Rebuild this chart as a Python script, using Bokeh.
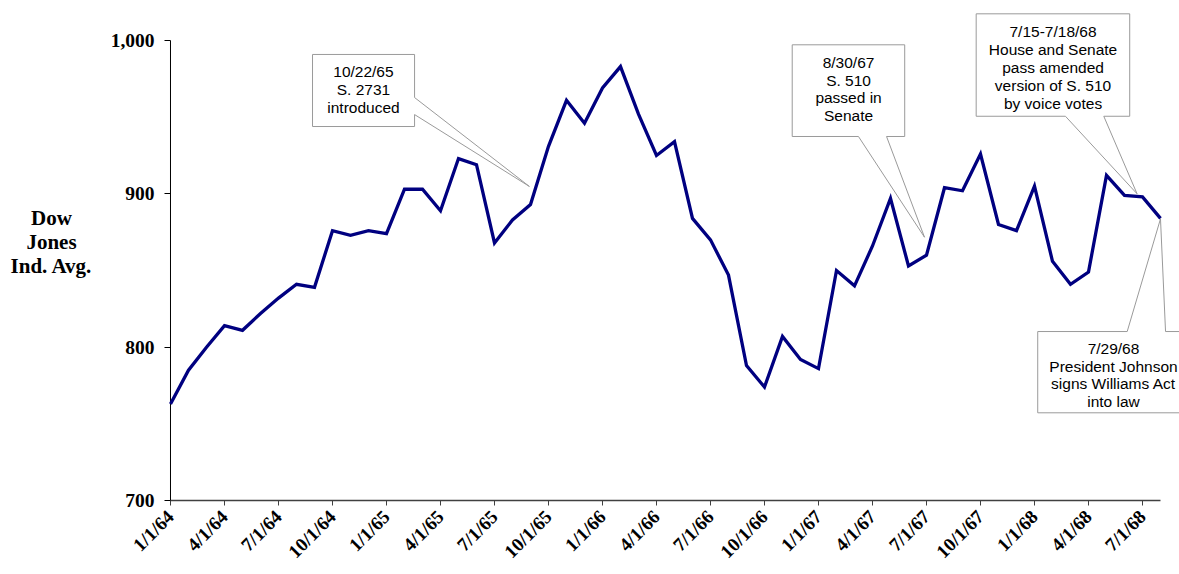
from bokeh.plotting import figure
from bokeh.layouts import row
from bokeh.models import Range1d, FixedTicker, NumeralTickFormatter, ColumnDataSource
from bokeh.core.properties import value
from bokeh.embed import file_html
from bokeh.resources import INLINE
import math

# ---- data (monthly Dow Jones Industrial Average, Jan 1964 - Aug 1968) ----
month_index = list(range(56))
dow_values = [
    763, 785, 800, 814, 811, 822, 832, 841, 839, 876, 873, 876,   # 1964
    874, 903, 903, 889, 923, 919, 868, 883, 893, 931, 961, 946,   # 1965
    969, 983, 952, 925, 934, 884, 870, 847, 788, 774, 807, 792,   # 1966
    786, 850, 840, 866, 897, 853, 860, 904, 902, 926, 880, 876,   # 1967
    905, 856, 841, 849, 912, 899, 898, 884,                       # 1968
]
tick_positions = list(range(0, 55, 3))
tick_labels = [
    "1/1/64", "4/1/64", "7/1/64", "10/1/64",
    "1/1/65", "4/1/65", "7/1/65", "10/1/65",
    "1/1/66", "4/1/66", "7/1/66", "10/1/66",
    "1/1/67", "4/1/67", "7/1/67", "10/1/67",
    "1/1/68", "4/1/68", "7/1/68",
]
y_ticks = [700, 800, 900, 1000]
y_title = "Dow\nJones\nInd. Avg."
callout_texts = [
    "10/22/65\nS. 2731\nintroduced",
    "8/30/67\nS. 510\npassed in\nSenate",
    "7/15-7/18/68\nHouse and Senate\npass amended\nversion of S. 510\nby voice votes",
    "7/29/68\nPresident Johnson\nsigns Williams Act\ninto law",
]

# ---- narrow panel holding the y-axis title ----
title_panel = figure(
    width=100, height=574, x_range=Range1d(0, 100), y_range=Range1d(0, 574),
    output_backend="svg", toolbar_location=None,
    x_axis_location=None, y_axis_location=None,
    min_border_left=0, min_border_right=0, min_border_top=0, min_border_bottom=0,
)
title_panel.outline_line_color = None
title_panel.xgrid.grid_line_color = None
title_panel.ygrid.grid_line_color = None
title_panel.text(x=[51], y=[298], text=[y_title],
                 text_font=value("Liberation Serif"), text_font_style="bold",
                 text_font_size="21px", text_color="black",
                 text_align="center", text_baseline="middle", text_line_height=1.0)

# ---- main chart ----
p = figure(
    width=1079, height=574,
    x_range=Range1d(-0.111, 56.056),
    y_range=Range1d(698.70, 1026.09),
    output_backend="svg", toolbar_location=None,
    min_border_left=68, min_border_right=0, min_border_top=0, min_border_bottom=72,
)
p.outline_line_color = None
p.background_fill_color = "white"
p.border_fill_color = "white"
p.xgrid.grid_line_color = None
p.ygrid.grid_line_color = None

# x axis
xa = p.xaxis[0]
xa.ticker = FixedTicker(ticks=tick_positions)
xa.major_label_overrides = {t: l for t, l in zip(tick_positions, tick_labels)}
xa.axis_line_color = None
xa.major_tick_line_color = "#404040"
xa.major_tick_out = 3
xa.major_tick_in = 2
xa.minor_tick_line_color = None
xa.major_label_orientation = math.pi / 4
xa.major_label_text_font = "Liberation Serif"
xa.major_label_text_font_style = "bold"
xa.major_label_text_font_size = "19px"
xa.major_label_text_color = "black"
xa.major_label_standoff = 8

# y axis
ya = p.yaxis[0]
ya.ticker = FixedTicker(ticks=y_ticks)
ya.formatter = NumeralTickFormatter(format="0,0")
ya.axis_line_color = None
ya.major_tick_line_color = "black"
ya.major_tick_out = 4
ya.major_tick_in = 2
ya.minor_tick_line_color = None
ya.major_label_text_font = "Liberation Serif"
ya.major_label_text_font_style = "bold"
ya.major_label_text_font_size = "19.5px"
ya.major_label_text_color = "black"
ya.major_label_standoff = 10

# axis lines drawn within the data area
x_first, x_last = month_index[0], month_index[-1]
p.segment(x0=[x_first], y0=[y_ticks[0]], x1=[x_last], y1=[y_ticks[0]],
          line_color="#404040", line_width=1.5)
p.segment(x0=[x_first], y0=[y_ticks[0]], x1=[x_first], y1=[y_ticks[-1]],
          line_color="black", line_width=1)

# ---- callouts (box edges and wedge in data units) ----
def box_right_wedge(L, R, T, B, w1, w2, tip):
    xs = [L, R, R, tip[0], R, R, L]
    ys = [T, T, w1, tip[1], w2, B, B]
    return xs, ys

def box_bottom_wedge(L, R, T, B, w1, w2, tip):
    xs = [L, R, R, w2, tip[0], w1, L]
    ys = [T, T, B, B, tip[1], B, B]
    return xs, ys

def box_top_wedge(L, R, T, B, w1, w2, tip):
    xs = [L, w1, tip[0], w2, R, R, L]
    ys = [T, T, tip[1], T, T, B, B]
    return xs, ys

shapes = [
    box_right_wedge(7.89, 13.56, 990.9, 943.9, 962.8, 951.7, (19.94, 904.8)),
    box_bottom_wedge(34.54, 40.79, 997.2, 937.4, 38.22, 39.78, (41.89, 871.7)),
    box_bottom_wedge(44.76, 53.29, 1017.4, 950.6, 49.72, 51.85, (53.70, 900.0)),
    box_top_wedge(48.18, 56.60, 810.2, 757.2, 53.15, 55.28, (55.0, 883.7)),
]
p.patches(xs=[s[0] for s in shapes], ys=[s[1] for s in shapes],
          fill_color="white", line_color="#9a9a9a", line_width=1)

# ---- data line ----
src = ColumnDataSource(dict(x=month_index, y=dow_values))
p.line("x", "y", source=src, line_color="#000080", line_width=3.3, line_join="miter")

# ---- callout texts ----
text_x = [10.72, 37.67, 49.03, 52.39]
text_y = [968.0, 968.4, 982.5, 781.8]
p.text(x=text_x, y=text_y, text=callout_texts,
       text_font=value("Liberation Sans"), text_font_size="15.5px",
       text_align="center", text_baseline="middle", text_color="black",
       text_line_height=1.05)

layout = row(title_panel, p, spacing=0)
open("out.html", "w").write(file_html(layout, INLINE))
